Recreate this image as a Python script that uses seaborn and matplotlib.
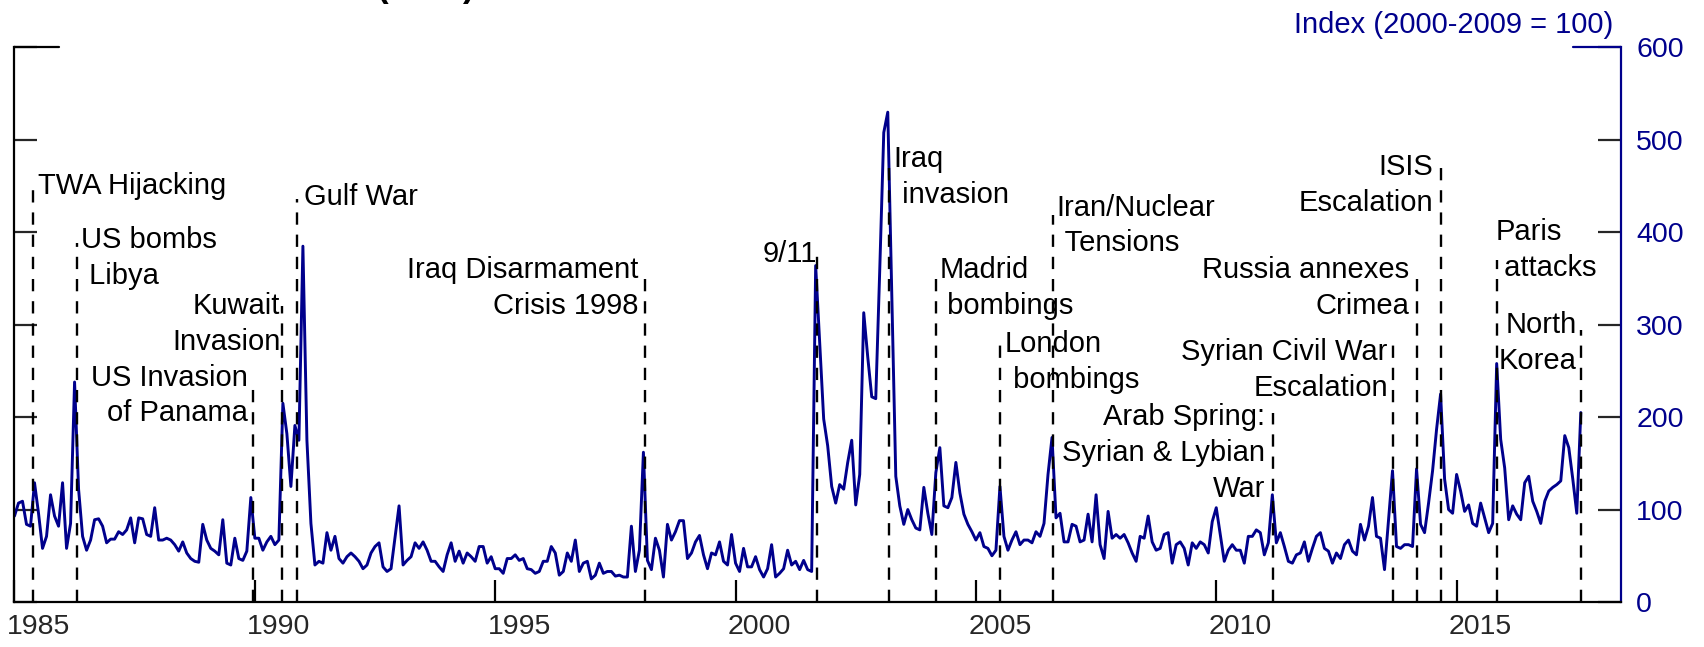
import numpy as np
import pandas as pd
import seaborn as sns
import matplotlib.pyplot as plt

# # DATA: monthly geopolitical risk index, Jan 1985 - Aug 2017

gpr_1985 = [93, 107, 109, 84, 82, 129, 96, 58, 71, 116, 93, 82]
gpr_1986 = [129, 58, 85, 238, 122, 71, 56, 67, 89, 90, 82, 64]
gpr_1987 = [68, 68, 76, 73, 78, 91, 64, 91, 90, 73, 71, 102]
gpr_1988 = [67, 67, 69, 67, 62, 55, 65, 53, 47, 44, 43, 84]
gpr_1989 = [67, 58, 55, 51, 89, 42, 40, 69, 47, 45, 55, 113]
gpr_1990 = [69, 69, 56, 65, 71, 62, 67, 215, 182, 125, 191, 175]
gpr_1991 = [385, 175, 85, 40, 44, 42, 75, 56, 71, 47, 42, 49]
gpr_1992 = [53, 49, 44, 36, 40, 53, 60, 64, 38, 33, 36, 70]
gpr_1993 = [104, 40, 45, 49, 64, 58, 65, 56, 44, 44, 38, 33]
gpr_1994 = [51, 64, 44, 55, 42, 53, 49, 44, 60, 60, 42, 49]
gpr_1995 = [36, 36, 31, 47, 47, 51, 45, 47, 36, 35, 31, 33]
gpr_1996 = [44, 44, 60, 53, 29, 33, 53, 44, 67, 33, 42, 44]
gpr_1997 = [25, 29, 42, 31, 33, 33, 28, 29, 27, 27, 82, 33]
gpr_1998 = [56, 162, 45, 35, 69, 56, 27, 84, 67, 76, 88, 88]
gpr_1999 = [47, 53, 65, 72, 51, 36, 53, 51, 65, 44, 40, 73]
gpr_2000 = [42, 33, 58, 38, 38, 49, 35, 27, 36, 62, 27, 31]
gpr_2001 = [36, 56, 40, 44, 35, 45, 35, 33, 364, 280, 198, 169]
gpr_2002 = [125, 107, 127, 122, 151, 175, 105, 138, 313, 265, 222, 220]
gpr_2003 = [360, 508, 530, 333, 136, 104, 84, 100, 89, 80, 78, 124]
gpr_2004 = [96, 73, 140, 167, 104, 102, 113, 151, 118, 95, 84, 76]
gpr_2005 = [67, 75, 60, 58, 50, 56, 125, 71, 56, 67, 76, 62]
gpr_2006 = [67, 67, 64, 76, 71, 85, 138, 178, 91, 96, 65, 65]
gpr_2007 = [84, 82, 65, 67, 95, 65, 116, 62, 47, 98, 69, 73]
gpr_2008 = [69, 73, 64, 53, 44, 71, 69, 93, 65, 56, 58, 73]
gpr_2009 = [75, 42, 62, 65, 58, 40, 64, 58, 65, 62, 53, 87]
gpr_2010 = [102, 73, 44, 56, 62, 56, 56, 42, 71, 71, 78, 75]
gpr_2011 = [51, 64, 116, 64, 75, 60, 44, 42, 51, 53, 65, 44]
gpr_2012 = [58, 71, 75, 58, 55, 42, 53, 47, 62, 67, 55, 51]
gpr_2013 = [84, 67, 82, 113, 71, 69, 35, 89, 142, 60, 58, 62]
gpr_2014 = [62, 60, 144, 84, 75, 107, 142, 187, 225, 133, 100, 96]
gpr_2015 = [138, 120, 98, 105, 85, 82, 107, 91, 75, 85, 258, 176]
gpr_2016 = [145, 89, 104, 95, 89, 129, 136, 109, 98, 85, 109, 120]
gpr_2017 = [124, 127, 131, 180, 167, 133, 96, 205]

# events (decimal year of the dashed line) and their labels
event_dates = [1985.38, 1986.30, 1989.96, 1990.56, 1990.87, 1998.11, 2001.69,
               2003.19, 2004.18, 2005.51, 2006.60, 2011.17, 2013.68, 2014.17,
               2014.67, 2015.84, 2017.58]
event_labels = ["TWA Hijacking", "US bombs\n Libya", "US Invasion\nof Panama",
                "Kuwait\nInvasion", "Gulf War", "Iraq Disarmament\nCrisis 1998",
                "9/11", "Iraq\n invasion", "Madrid\n bombings", "London\n bombings",
                "Iran/Nuclear\n Tensions", "Arab Spring:\nSyrian & Lybian\nWar",
                "Syrian Civil War\nEscalation", "Russia annexes\nCrimea",
                "ISIS\nEscalation", "Paris\n attacks", "North\nKorea"]

year_ticks = [1985, 1990, 1995, 2000, 2005, 2010, 2015]
index_ticks = [0, 100, 200, 300, 400, 500, 600]

# # LAYOUT (not data): height of each dashed line, label anchor (x, top, align)
line_tops = [449, 388, 237, 320, 436, 353, 377, 478, 353, 280, 419, 204,
             287, 353, 472, 370, 294]
label_pos = [(1985.49, 465, "left"), (1986.39, 407, "left"), (1989.85, 258, "right"),
             (1990.53, 335, "right"), (1991.03, 453, "left"), (1997.98, 374, "right"),
             (2001.69, 392, "right"), (2003.29, 494, "left"), (2004.24, 374, "left"),
             (2005.60, 294, "left"), (2006.68, 442, "left"), (2011.02, 215, "right"),
             (2013.57, 286, "right"), (2014.02, 374, "right"), (2014.52, 486, "right"),
             (2015.81, 415, "left"), (2017.50, 315, "right")]

# # BUILD THE TABLE

gpr = np.concatenate([gpr_1985, gpr_1986, gpr_1987, gpr_1988, gpr_1989, gpr_1990,
                      gpr_1991, gpr_1992, gpr_1993, gpr_1994, gpr_1995, gpr_1996,
                      gpr_1997, gpr_1998, gpr_1999, gpr_2000, gpr_2001, gpr_2002,
                      gpr_2003, gpr_2004, gpr_2005, gpr_2006, gpr_2007, gpr_2008,
                      gpr_2009, gpr_2010, gpr_2011, gpr_2012, gpr_2013, gpr_2014,
                      gpr_2015, gpr_2016, gpr_2017])
data = pd.DataFrame({"date": 1985 + np.arange(len(gpr)) / 12.0, "gpr": gpr})

# # DRAW

sns.set_style("ticks")
plt.rcParams['font.family'] = ['Liberation Sans', 'DejaVu Sans']

navy = "#00008C"
fs = 21

fig = plt.figure(figsize=(17.04, 6.47), dpi=100)
ax = fig.add_axes([0.0085, 0.0696, 0.9428, 0.857])

sns.lineplot(data=data, x="date", y="gpr", color=navy, linewidth=2.1, ax=ax, zorder=2)
ax.vlines(event_dates, 0, line_tops, colors="black", linewidth=1.7,
          linestyles=[(0, (5.2, 4.2))], zorder=3)

for txt, (x, y, ha) in zip(event_labels, label_pos):
    ax.text(x, y, txt, ha=ha, va="top", fontsize=fs, color="black", linespacing=1.36)

ax.set_xlim(1985, 2018.42)
ax.set_ylim(0, 600)
ax.set_xlabel("")
ax.set_ylabel("")

# x axis: ticks on the years, labels half a year to the right
ax.set_xticks(year_ticks)
ax.set_xticklabels([])
ax.set_xticks([y + 0.5 for y in year_ticks], [str(y) for y in year_ticks], minor=True)
ax.tick_params(axis="x", which="major", direction="in", length=16, width=1.6,
               color="black", top=False)
ax.tick_params(axis="x", which="minor", length=0, pad=9, labelsize=fs - 0.5)

# y axis: black ticks on left, blue axis with labels on right
ax.set_yticks(index_ticks)
ax.tick_params(axis="y", which="major", direction="in", length=16.5, width=1.6,
               left=True, right=True, labelleft=False, labelright=True,
               labelcolor=navy, labelsize=fs - 0.5, pad=11)
for t in ax.yaxis.get_major_ticks():
    t.tick1line.set_color("black")
    t.tick2line.set_color(navy)

for side in ["left", "bottom", "right"]:
    ax.spines[side].set_linewidth(1.6)
ax.spines["left"].set_color("black")
ax.spines["bottom"].set_color("black")
ax.spines["right"].set_color(navy)
ax.spines["top"].set_visible(False)

# longer tick marks at the top of both axes
ax.axhline(600, xmin=0, xmax=0.028, color="black", linewidth=1.6, clip_on=False)
ax.axhline(600, xmin=0.970, xmax=1, color=navy, linewidth=1.6, clip_on=False)

fig.text(0.947, 0.961, "Index (2000-2009 = 100)", ha="right", va="center",
         color=navy, fontsize=fs)
fig.text(0.250, 1.005, "(GPR)", ha="center", va="baseline", fontsize=25,
         fontweight="bold", color="black")

fig.savefig("out.png", dpi=100)
plt.close(fig)
